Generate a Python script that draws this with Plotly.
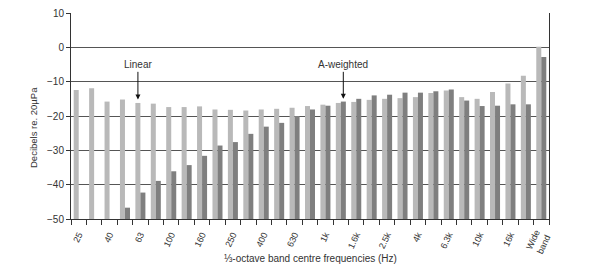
import plotly.graph_objects as go

bands = ["25", "31.5", "40", "50", "63", "80", "100", "125", "160", "200",
         "250", "315", "400", "500", "630", "800", "1k", "1.25k", "1.6k", "2k",
         "2.5k", "3.15k", "4k", "5k", "6.3k", "8k", "10k", "12.5k", "16k", "20k",
         "Wide<br>band"]

linear_db = [-12.4, -11.9, -15.8, -15.2, -16.2, -16.4, -17.4, -17.4, -17.2, -18.1,
             -18.2, -18.4, -18.1, -17.9, -17.6, -17.1, -16.7, -16.2, -15.9, -15.3,
             -15.0, -14.8, -14.5, -13.3, -12.6, -14.5, -15.0, -13.0, -10.5, -8.3,
             0.2]

a_weighted_db = [None, None, None, -46.7, -42.3, -38.9, -36.1, -34.3, -31.6, -28.6,
                 -27.6, -25.2, -23.1, -22.0, -20.0, -18.1, -17.0, -15.8, -15.0, -14.0,
                 -13.8, -13.2, -13.2, -12.8, -12.3, -15.5, -17.1, -17.0, -16.6, -16.6,
                 -2.8]

y_ticks = [10, 0, -10, -20, -30, -40, -50]
BASE = -50

x = list(range(len(bands)))
label_idx = [i for i in x if i % 2 == 0]
label_txt = [bands[i] for i in label_idx]


def heights(vals):
    return [None if v is None else v - BASE for v in vals]


fig = go.Figure()
fig.add_trace(go.Bar(x=x, y=heights(linear_db), base=BASE, name="Linear",
                     marker=dict(color="#b9b9b9", line=dict(width=0))))
fig.add_trace(go.Bar(x=x, y=heights(a_weighted_db), base=BASE, name="A-weighted",
                     marker=dict(color="#7f7f7f", line=dict(width=0))))

ML, MR, MT, MB = 71, 51, 13, 52
W, H = 600, 271
plot_w = W - ML - MR
plot_h = H - MT - MB


def px_x(px):
    return (px - ML) / plot_w


def px_y(py):
    return (H - MB - py) / plot_h


font_family = "Liberation Sans, Arial, sans-serif"
fig.update_layout(
    width=W, height=H,
    margin=dict(l=ML, r=MR, t=MT, b=MB, autoexpand=False),
    paper_bgcolor="white", plot_bgcolor="white",
    barmode="group", bargap=0.35, bargroupgap=0,
    showlegend=False,
    font=dict(family=font_family, size=10, color="#333"),
    xaxis=dict(
        range=[-0.5, len(bands) - 0.5], automargin=False,
        tickmode="array", tickvals=label_idx, ticktext=label_txt,
        tickangle=-65, ticks="", showgrid=False,
        ticklabelstandoff=6, ticklabelshift=0,
        showline=True, linecolor="#333", linewidth=1,
        tickfont=dict(size=9, color="#333"),
        minor=dict(tickmode="array", tickvals=[i - 0.5 for i in range(len(bands) + 1)],
                   ticks="outside", ticklen=5, tickcolor="#333", showgrid=False),
    ),
    yaxis=dict(
        range=[-50, 10], tickmode="array", tickvals=y_ticks, automargin=False,
        ticks="outside", ticklen=4, tickcolor="#333",
        showgrid=True, gridcolor="#555", gridwidth=1,
        showline=True, linecolor="#333", linewidth=1, mirror=True,
        zeroline=False,
        tickfont=dict(size=10, color="#333"),
    ),
    annotations=[
        dict(x=4 - 0.16, y=-15.2, ax=4 - 0.16, ay=-5.1, axref="x", ayref="y",
             xref="x", yref="y", text="Linear", showarrow=True,
             arrowhead=2, arrowsize=1, arrowwidth=1, arrowcolor="#111",
             font=dict(size=10, color="#333")),
        dict(x=17 + 0.16, y=-15.0, ax=17 + 0.16, ay=-5.1, axref="x", ayref="y",
             xref="x", yref="y", text="A-weighted", showarrow=True,
             arrowhead=2, arrowsize=1, arrowwidth=1, arrowcolor="#111",
             font=dict(size=10, color="#333")),
        dict(x=px_x(33), y=px_y(128), xref="paper", yref="paper",
             text="Decibels re. 20µPa", showarrow=False, textangle=-90,
             font=dict(size=9.5, color="#333"),
             xanchor="center", yanchor="middle"),
        dict(x=px_x(310), y=px_y(258), xref="paper", yref="paper",
             text="⅓-octave band centre frequencies (Hz)", showarrow=False,
             font=dict(size=10, color="#333"),
             xanchor="center", yanchor="middle"),
    ],
)

fig.write_html("out.html")
